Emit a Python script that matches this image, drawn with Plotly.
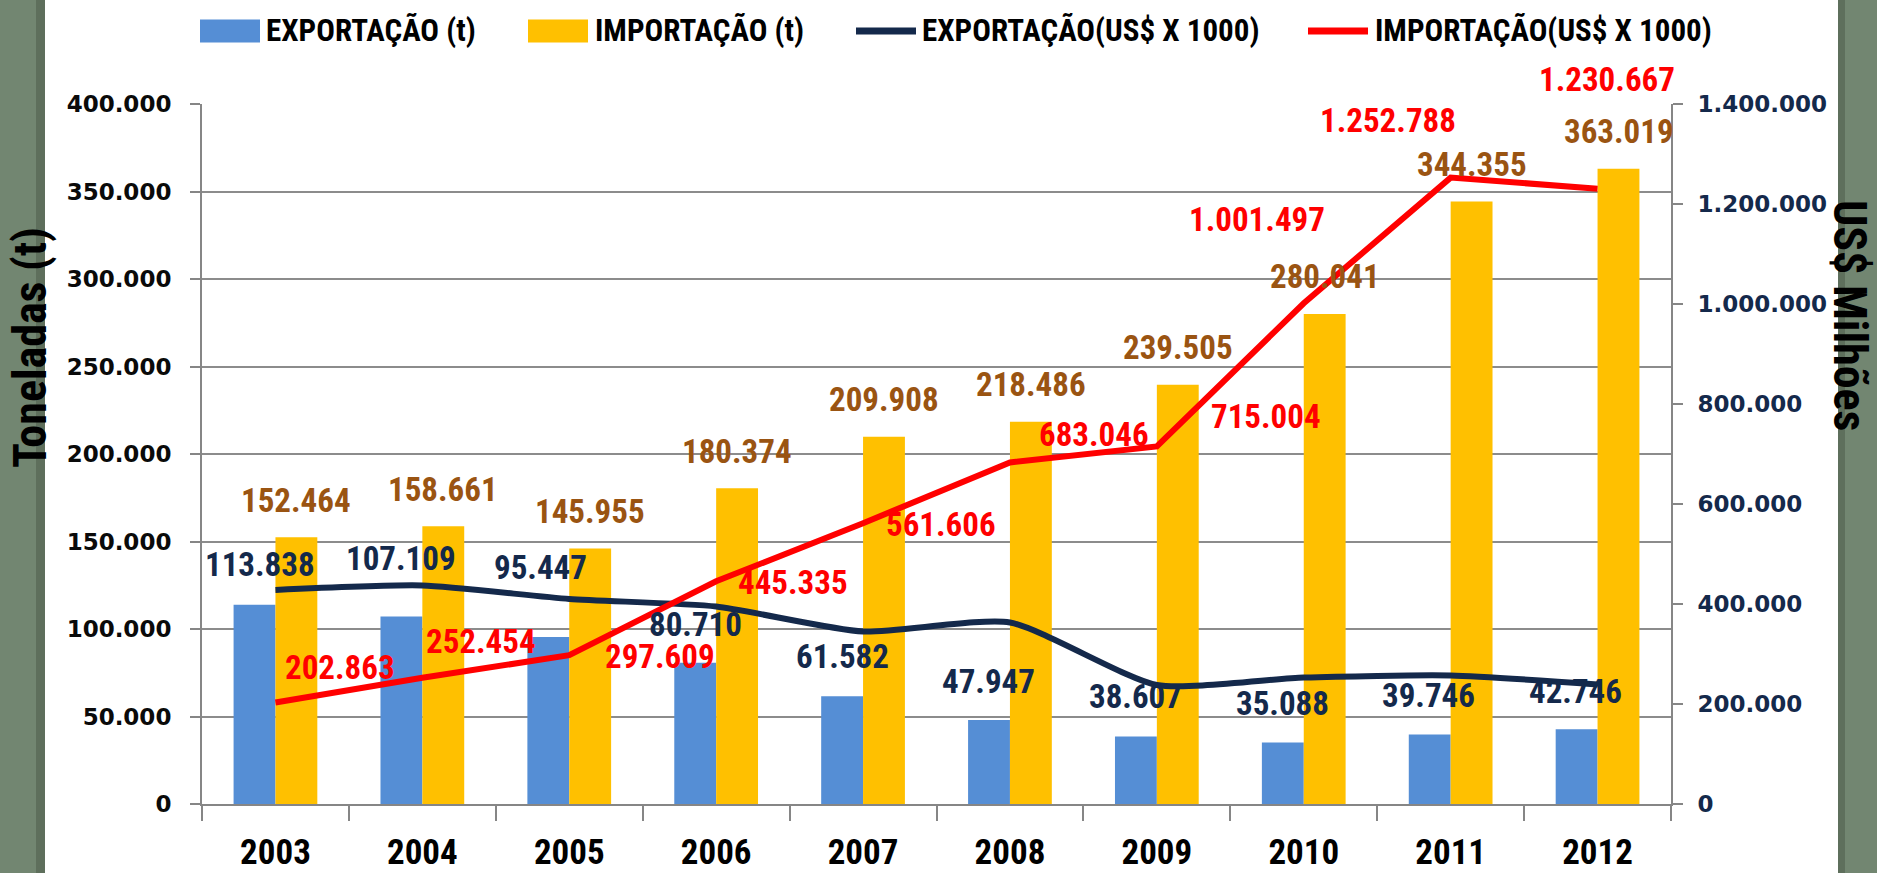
import plotly.graph_objects as go

# ---------------- data ----------------
years = ["2003", "2004", "2005", "2006", "2007", "2008", "2009", "2010", "2011", "2012"]
exp_t = [113838, 107109, 95447, 80710, 61582, 47947, 38607, 35088, 39746, 42746]
imp_t = [152464, 158661, 145955, 180374, 209908, 218486, 239505, 280041, 344355, 363019]
exp_usd = [428000, 437000, 410000, 395000, 345000, 363000, 238000, 253000, 257000, 239000]
imp_usd = [202863, 252454, 297609, 445335, 561606, 683046, 715004, 1001497, 1252788, 1230667]

left_ticks = [0, 50000, 100000, 150000, 200000, 250000, 300000, 350000, 400000]
right_ticks = [0, 200000, 400000, 600000, 800000, 1000000, 1200000, 1400000]

series_names = ["EXPORTAÇÃO (t)", "IMPORTAÇÃO (t)", "EXPORTAÇÃO(US$ X 1000)", "IMPORTAÇÃO(US$ X 1000)"]
left_title = "Toneladas (t)"
right_title = "US$ Milhões"

# ---------------- styles / positions ----------------
W, H = 1877, 873
L, R, T, B = 202, 206, 104, 69
PW, PH = W - L - R, H - T - B

C_BLUE = "#558ED5"
C_YEL = "#FFC000"
C_DARK = "#14294B"
C_RED = "#FF0000"
C_BROWN = "#9A5412"
C_GRID = "#8C8C8C"
C_BAND = "#728671"
C_BAND_D = "#5E6F5C"

NARROW = "'Liberation Sans Narrow', 'Roboto Condensed', 'DejaVu Sans Condensed', sans-serif"
WIDE = "'DejaVu Sans', Verdana, sans-serif"

# label offsets (pixels)
exp_lbl_off = [(6, 40), (0, 58), (-8, 69), (0, 38), (0, 40), (0, 39), (0, 40), (0, 39), (-1, 39), (-1, 38)]
imp_lbl_off = [(0, 37)] * 10
red_lbl_off = [(65, 35), (59, 36), (91, -1), (77, -1), (78, -1), (84, 28), (109, 30), (-47, 84), (-63, 57), (9, 109)]
BAR_HALF = 21


def px_x(px):
    return (px - L) / PW


def px_y(py):
    return (H - B - py) / PH


def fmt(v):
    return f"{v:,}".replace(",", ".")


fig = go.Figure()
fig.add_trace(go.Bar(x=years, y=exp_t, name=series_names[0], marker=dict(color=C_BLUE, line=dict(width=0))))
fig.add_trace(go.Bar(x=years, y=imp_t, name=series_names[1], marker=dict(color=C_YEL, line=dict(width=0))))
fig.add_trace(go.Scatter(x=years, y=exp_usd, name=series_names[2], yaxis="y2", mode="lines",
                         line=dict(color=C_DARK, width=6, shape="spline", smoothing=0.6)))
fig.add_trace(go.Scatter(x=years, y=imp_usd, name=series_names[3], yaxis="y2", mode="lines",
                         line=dict(color=C_RED, width=6)))

ann = []
lbl_font = dict(family=NARROW, size=33, weight="bold")
for i, yr in enumerate(years):
    # category axes take the serial index of the category for annotations
    dx, dy = exp_lbl_off[i]
    ann.append(dict(x=i, y=exp_t[i], xref="x", yref="y", text=fmt(exp_t[i]), showarrow=False,
                    xshift=-BAR_HALF + dx, yshift=dy, xanchor="center", yanchor="middle",
                    font=dict(color=C_DARK, **lbl_font)))
    dx, dy = imp_lbl_off[i]
    ann.append(dict(x=i, y=imp_t[i], xref="x", yref="y", text=fmt(imp_t[i]), showarrow=False,
                    xshift=BAR_HALF + dx, yshift=dy, xanchor="center", yanchor="middle",
                    font=dict(color=C_BROWN, **lbl_font)))
    dx, dy = red_lbl_off[i]
    ann.append(dict(x=i, y=imp_usd[i], xref="x", yref="y2", text=fmt(imp_usd[i]), showarrow=False,
                    xshift=dx, yshift=dy, xanchor="center", yanchor="middle",
                    font=dict(color=C_RED, **lbl_font)))

# axis titles
title_font = dict(family=NARROW, size=46, weight="bold", color="#000000")
ann.append(dict(x=px_x(30), y=px_y(348), xref="paper", yref="paper", text=left_title, textangle=-90,
                showarrow=False, xanchor="center", yanchor="middle", font=title_font))
ann.append(dict(x=px_x(1850), y=px_y(315), xref="paper", yref="paper", text=right_title, textangle=90,
                showarrow=False, xanchor="center", yanchor="middle", font=title_font))

# custom legend
leg_font = dict(family=NARROW, size=31, weight="bold", color="#000000")
leg_y = 31
legend_items = [
    ("rect", C_BLUE, 200, 260, 264, series_names[0]),
    ("rect", C_YEL, 528, 588, 593, series_names[1]),
    ("line", C_DARK, 856, 916, 920, series_names[2]),
    ("line", C_RED, 1308, 1368, 1373, series_names[3]),
]
shapes = [
    dict(type="rect", xref="paper", yref="paper", x0=px_x(45), x1=px_x(1838), y0=px_y(H + 5), y1=px_y(-5),
         fillcolor="#FFFFFF", line=dict(width=0), layer="below"),
    dict(type="rect", xref="paper", yref="paper", x0=px_x(36), x1=px_x(45), y0=px_y(H + 5), y1=px_y(-5),
         fillcolor=C_BAND_D, line=dict(width=0), layer="below"),
    dict(type="rect", xref="paper", yref="paper", x0=px_x(1838), x1=px_x(1845), y0=px_y(H + 5), y1=px_y(-5),
         fillcolor=C_BAND_D, line=dict(width=0), layer="below"),
]
for kind, col, x0, x1, tx, name in legend_items:
    if kind == "rect":
        shapes.append(dict(type="rect", xref="paper", yref="paper", x0=px_x(x0), x1=px_x(x1),
                           y0=px_y(leg_y + 11.5), y1=px_y(leg_y - 11.5), fillcolor=col, line=dict(width=0)))
    else:
        shapes.append(dict(type="line", xref="paper", yref="paper", x0=px_x(x0), x1=px_x(x1),
                           y0=px_y(leg_y), y1=px_y(leg_y), line=dict(color=col, width=7)))
    ann.append(dict(x=px_x(tx), y=px_y(leg_y), xref="paper", yref="paper", text=name, showarrow=False,
                    xanchor="left", yanchor="middle", font=leg_font))

fig.update_layout(
    width=W, height=H,
    margin=dict(l=L, r=R, t=T, b=B, pad=0, autoexpand=False),
    paper_bgcolor=C_BAND, plot_bgcolor="#FFFFFF",
    showlegend=False,
    barmode="group", bargap=0.43, bargroupgap=0,
    annotations=ann, shapes=shapes,
    xaxis=dict(type="category", range=[-0.5, 9.5], automargin=False, showgrid=False, showline=True,
               linecolor="#868686", linewidth=2, ticks="outside", tickson="boundaries", ticklen=15,
               tickwidth=2, tickcolor="#868686", ticklabelstandoff=16,
               tickfont=dict(family=NARROW, size=35, weight="bold", color="#000000")),
    yaxis=dict(range=[0, 400000], tickvals=left_ticks, ticktext=[fmt(v) for v in left_ticks],
               automargin=False, showgrid=True, gridcolor=C_GRID, gridwidth=2, zeroline=False, showline=True,
               linecolor="#868686", linewidth=2, ticks="outside", ticklen=10, tickwidth=2,
               tickcolor="#868686", ticklabelstandoff=14,
               tickfont=dict(family=WIDE, size=23, weight="bold", color="#0A0A0A")),
    yaxis2=dict(range=[0, 1400000], tickvals=right_ticks, ticktext=[fmt(v) for v in right_ticks],
                automargin=False, overlaying="y", side="right", showgrid=False, zeroline=False, showline=True,
                linecolor="#868686", linewidth=2, ticks="outside", ticklen=10, tickwidth=2,
                tickcolor="#868686", ticklabelstandoff=10,
                tickfont=dict(family=WIDE, size=23, weight="bold", color="#14294B")),
)

fig.write_html("out.html", config={"displayModeBar": False},
               post_script="document.body.style.margin='0';document.body.style.overflow='hidden';")
